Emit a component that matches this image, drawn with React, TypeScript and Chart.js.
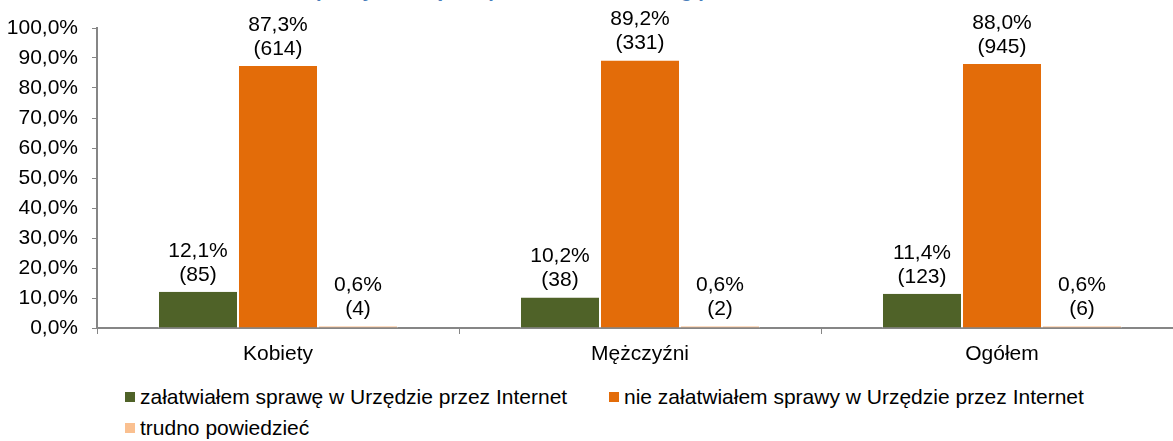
import React, { useEffect, useRef } from "react";
import { Chart, registerables } from "chart.js";

Chart.register(...registerables);

// ---- data ----
const titleText = "Wykres 10. Deklarowane załatwianie sprawy w Urzędzie przez Internet według płci";
const categories = ["Kobiety", "Mężczyźni", "Ogółem"];
const seriesLabels = [
  "załatwiałem sprawę w Urzędzie przez Internet",
  "nie załatwiałem sprawy w Urzędzie przez Internet",
  "trudno powiedzieć",
];
const handledOnline = [12.1, 10.2, 11.4];
const notHandledOnline = [87.3, 89.2, 88.0];
const hardToSay = [0.6, 0.6, 0.6];
const handledCounts = [85, 38, 123];
const notHandledCounts = [614, 331, 945];
const hardToSayCounts = [4, 2, 6];
const yMin = 0;
const yMax = 100;
const yStep = 10;

// ---- styles ----
const seriesColors = ["#4F6228", "#E36C09", "#FAC090"];
const FONT = '"Liberation Sans", Arial, Helvetica, sans-serif';
const AXIS = "#868686";

const fmtPct = (v: number) => v.toFixed(1).replace(".", ",") + "%";

const seriesValues = [handledOnline, notHandledOnline, hardToSay];
const seriesCounts = [handledCounts, notHandledCounts, hardToSayCounts];

const barLabelsPlugin = {
  id: "barLabels",
  afterDatasetsDraw(chart: any) {
    const ctx = chart.ctx;
    ctx.save();
    ctx.font = `21px ${FONT}`;
    ctx.fillStyle = "#000";
    ctx.textAlign = "center";
    ctx.textBaseline = "alphabetic";
    chart.data.datasets.forEach((ds: any, di: number) => {
      const meta = chart.getDatasetMeta(di);
      meta.data.forEach((bar: any, i: number) => {
        const v = ds.data[i] as number;
        const n = seriesCounts[di][i];
        ctx.fillText(fmtPct(v), bar.x, bar.y - 35);
        ctx.fillText(`(${n})`, bar.x, bar.y - 11);
      });
    });
    ctx.restore();
  },
};

export default function App() {
  const canvasRef = useRef<HTMLCanvasElement | null>(null);

  useEffect(() => {
    if (!canvasRef.current) return;
    const chart = new Chart(canvasRef.current, {
      type: "bar",
      data: {
        labels: categories,
        datasets: seriesLabels.map((label, i) => ({
          label,
          data: seriesValues[i],
          backgroundColor: seriesColors[i],
          borderColor: "#ffffff",
          borderWidth: { left: 1, right: 1, top: 0, bottom: 0 },
          borderSkipped: false,
          categoryPercentage: 0.663,
          barPercentage: 1,
        })),
      },
      options: {
        animation: false,
        responsive: false,
        devicePixelRatio: 1,
        layout: { padding: { top: 28, right: 12, bottom: 0, left: 0 } },
        plugins: {
          legend: { display: false },
          tooltip: { enabled: false },
          title: { display: false },
        },
        scales: {
          x: {
            grid: {
              display: true,
              drawOnChartArea: false,
              drawTicks: true,
              tickLength: 6,
              color: AXIS,
              lineWidth: 1,
            },
            border: { display: true, color: AXIS, width: 2 },
            ticks: {
              color: "#000",
              font: { size: 21, family: FONT },
              padding: 8,
              maxRotation: 0,
            },
            afterFit: (s: any) => {
              s.height = 45;
            },
          },
          y: {
            min: yMin,
            max: yMax,
            grid: {
              display: true,
              drawOnChartArea: false,
              drawTicks: true,
              tickLength: 5,
              color: AXIS,
              lineWidth: 1,
            },
            border: { display: true, color: AXIS, width: 2 },
            ticks: {
              stepSize: yStep,
              color: "#000",
              font: { size: 21, family: FONT },
              padding: 14,
              callback: (v: any) => fmtPct(Number(v)),
            },
            afterFit: (s: any) => {
              s.width = 97;
            },
          },
        },
      },
      plugins: [barLabelsPlugin],
    });
    return () => chart.destroy();
  }, []);

  return (
    <div
      style={{
        position: "fixed",
        left: 0,
        top: 0,
        width: 1173,
        height: 441,
        overflow: "hidden",
        background: "#fff",
        fontFamily: FONT,
      }}
    >
      <div
        style={{
          position: "absolute",
          left: -45,
          top: -20,
          whiteSpace: "nowrap",
          fontSize: 20,
          lineHeight: "20px",
          fontWeight: "bold",
          color: "#4A7EBB",
        }}
      >
        {titleText}
      </div>
      <div style={{ position: "absolute", left: 0, top: 0, width: 1195, height: 373 }}>
        <canvas ref={canvasRef} width={1195} height={373} />
      </div>
      <div
        style={{
          position: "absolute",
          left: 125,
          top: 381,
          display: "grid",
          gridTemplateColumns: "484px 484px",
          gridAutoRows: "31px",
          fontSize: 21,
          color: "#000",
        }}
      >
        {seriesLabels.map((label, i) => (
          <div key={label} style={{ display: "flex", alignItems: "center", whiteSpace: "nowrap" }}>
            <span
              style={{
                display: "inline-block",
                width: 10,
                height: 10,
                background: seriesColors[i],
                marginRight: 5,
                flex: "none",
              }}
            />
            <span>{label}</span>
          </div>
        ))}
      </div>
    </div>
  );
}
